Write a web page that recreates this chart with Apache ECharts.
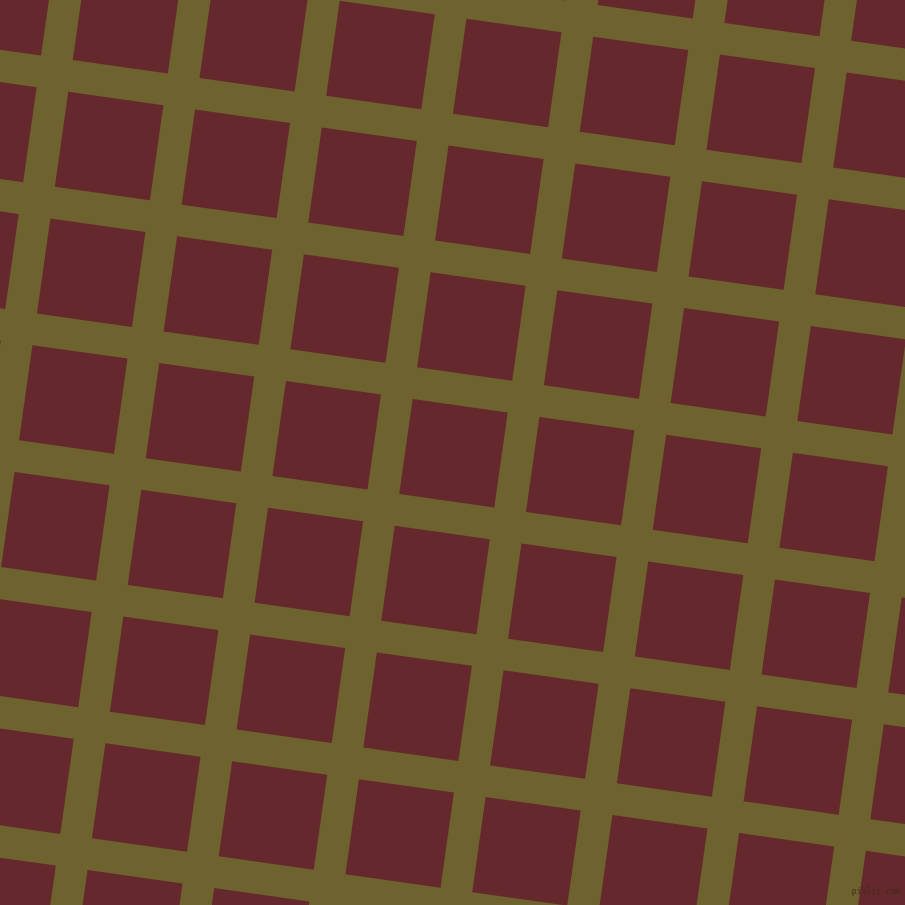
<!DOCTYPE html>
<html><head><meta charset="utf-8">
<script src="https://cdn.jsdelivr.net/npm/echarts@6/dist/echarts.min.js"></script>
<style>html,body{margin:0;padding:0;background:#6e622f;}#c{width:905px;height:905px;}</style>
</head><body><div id="c"></div>
<script>
// lattice indices (columns along the tilted rows, rows along the tilted columns)
var colIndex = [-3,-2,-1,0,1,2,3,4,5,6,7,8,9];
var rowIndex = [-3,-2,-1,0,1,2,3,4,5,6,7,8,9];
// pattern geometry
var tiltDeg = 8.05;      // rotation of the grid (degrees, clockwise)
var period = 128;        // cell period in px
var cellSize = 96;       // size of each square
var originCell = [68.3, 91.7]; // top-left corner of cell (0,0)
var watermark = ['pixlis.com'];

var cells = [];
rowIndex.forEach(function(r){ colIndex.forEach(function(c){ cells.push([c, r]); }); });

var th = tiltDeg * Math.PI / 180;
var ux = Math.cos(th), uy = Math.sin(th);
var vx = -Math.sin(th), vy = Math.cos(th);

function corner(c, r, du, dv) {
  var a = c * period + du, b = r * period + dv;
  return [originCell[0] + a * ux + b * vx, originCell[1] + a * uy + b * vy];
}

var chart = echarts.init(document.getElementById('c'), null, {renderer: 'canvas'});
chart.setOption({
  backgroundColor: '#6e622f',
  animation: false,
  grid: {left: 0, right: 0, top: 0, bottom: 0},
  xAxis: {type: 'value', min: 0, max: 905, show: false},
  yAxis: {type: 'value', min: 0, max: 905, inverse: true, show: false},
  series: [{
    type: 'custom',
    clip: false,
    data: cells,
    renderItem: function(params, api) {
      var c = api.value(0), r = api.value(1);
      var pts = [
        corner(c, r, 0, 0),
        corner(c, r, cellSize, 0),
        corner(c, r, cellSize, cellSize),
        corner(c, r, 0, cellSize)
      ].map(function(p){ return api.coord(p); });
      return {type: 'polygon', shape: {points: pts}, style: {fill: '#65282d'}};
    }
  }],
  graphic: [{
    type: 'text', right: 5, bottom: 9, z: 100,
    style: {text: watermark[0], fill: '#3e2c1d', font: '8px "DejaVu Sans Mono"'}
  }]
});
</script></body></html>
